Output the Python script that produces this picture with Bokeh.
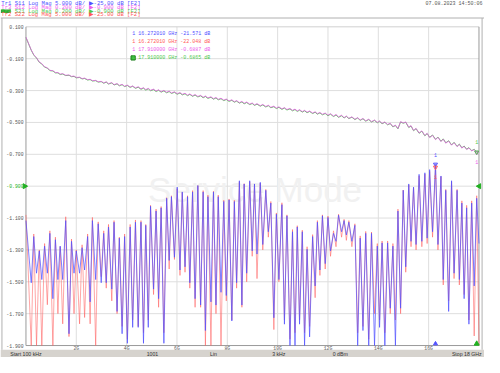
import math
from bokeh.plotting import figure
from bokeh.models import Range1d
from bokeh.core.properties import value
from bokeh.embed import file_html
from bokeh.resources import INLINE

# ---------------- data ----------------
# stimulus grid (GHz): S11 ripple maxima and minima, then stop frequency
pk_f = [0.0001, 0.31, 0.53, 0.74, 0.95, 1.17, 1.36, 1.58, 1.81, 2.00,
        2.23, 2.45, 2.64, 2.87, 3.09, 3.28, 3.50, 3.71, 3.92, 4.14,
        4.35, 4.57, 4.76, 4.95, 5.17, 5.37, 5.59, 5.78, 6.01, 6.21,
        6.42, 6.62, 6.83, 7.04, 7.23, 7.45, 7.64, 7.86, 8.07, 8.28,
        8.48, 8.67, 8.89, 9.08, 9.31, 9.53, 9.73, 9.95, 10.17, 10.37,
        10.59, 10.78, 10.98, 11.17, 11.39, 11.58, 11.78, 12.00, 12.22, 12.42,
        12.64, 12.83, 13.07, 13.28, 13.50, 13.73, 13.96, 14.15, 14.37, 14.58,
        14.78, 14.99, 15.21, 15.40, 15.62, 15.85, 16.04, 16.272, 16.49, 16.68,
        16.91, 17.13, 17.32, 17.51, 17.71, 17.91]
tr_f = [0.21, 0.42, 0.63, 0.85, 1.07, 1.27, 1.46, 1.71, 1.91, 2.13,
        2.33, 2.55, 2.77, 2.99, 3.19, 3.41, 3.62, 3.82, 4.03, 4.24,
        4.46, 4.67, 4.86, 5.07, 5.27, 5.48, 5.69, 5.90, 6.12, 6.32,
        6.51, 6.72, 6.94, 7.13, 7.35, 7.55, 7.75, 7.96, 8.18, 8.37,
        8.58, 8.77, 8.99, 9.18, 9.41, 9.63, 9.85, 10.05, 10.27, 10.49,
        10.69, 10.87, 11.07, 11.27, 11.49, 11.68, 11.89, 12.10, 12.32, 12.54,
        12.73, 12.95, 13.18, 13.39, 13.62, 13.85, 14.05, 14.26, 14.475, 14.68,
        14.885, 15.09, 15.30, 15.50, 15.73, 15.94, 16.155, 16.37, 16.58, 16.795,
        17.01, 17.22, 17.41, 17.60, 17.81]
stop_f = 18.0

# Tr1 S11 (dB)
s11_pk = [-30.4, -32.9, -35.15, -34.4, -32.4, -33.4, -34.4, -30.4, -33.65, -35.15,
          -34.65, -32.9, -30.4, -30.9, -32.4, -31.4, -30.65, -33.15, -32.9, -31.4,
          -30.65, -30.65, -31.15, -28.15, -28.9, -28.4, -26.9, -26.65, -25.15, -25.9,
          -26.65, -25.9, -24.9, -25.9, -26.65, -25.9, -26.65, -27.4, -27.15, -27.4,
          -24.15, -24.65, -24.15, -24.65, -24.4, -25.65, -27.65, -29.4, -27.9, -29.65,
          -32.15, -31.4, -32.15, -34.9, -32.9, -30.65, -29.65, -29.9, -32.4, -29.55,
          -30.4, -30.65, -31.15, -33.15, -32.4, -32.4, -34.4, -33.9, -33.9, -34.4,
          -28.9, -25.65, -24.65, -25.15, -23.15, -22.9, -22.4, -21.571, -23.4, -25.65,
          -24.15, -25.65, -27.65, -28.4, -27.65, -26.9]
s11_tr = [-40.15, -38.65, -39.65, -38.65, -42.65, -39.65, -39.65, -48.15, -38.65, -38.65,
          -38.15, -43.15, -39.65, -40.15, -40.15, -41.15, -44.65, -48.15, -49.65, -47.15,
          -47.15, -49.65, -47.15, -41.15, -42.65, -49.65, -36.65, -36.15, -38.15, -37.65,
          -40.15, -42.65, -43.65, -47.65, -43.15, -43.65, -41.65, -42.15, -46.15, -40.15,
          -43.65, -38.65, -35.15, -35.65, -34.15, -32.15, -45.65, -39.65, -46.65, -50.0,
          -50.0, -46.65, -50.0, -48.65, -40.65, -38.15, -37.15, -35.15, -33.65, -32.15,
          -32.65, -33.65, -50.0, -47.65, -50.0, -50.0, -47.15, -50.0, -44.15, -50.0,
          -44.15, -37.65, -33.65, -34.15, -33.65, -33.15, -32.15, -34.15, -39.65, -44.65,
          -38.65, -39.65, -42.65, -46.65, -40.65]
s11_stop = -34.0

# Tr2 S22 (dB)
s22_pk = [-29.5, -32.5, -35.0, -34.0, -32.0, -33.0, -34.5, -29.8, -33.3, -35.0,
          -34.2, -32.5, -29.9, -30.6, -32.0, -31.0, -30.4, -33.0, -32.5, -31.0,
          -30.3, -30.4, -31.0, -28.0, -28.6, -28.2, -26.8, -26.5, -25.4, -26.0,
          -26.5, -25.7, -24.9, -25.7, -26.4, -25.8, -26.4, -27.2, -27.0, -27.2,
          -24.3, -24.6, -24.3, -24.7, -24.5, -25.5, -27.4, -29.2, -27.6, -29.5,
          -31.8, -31.2, -31.9, -34.5, -32.6, -30.4, -29.5, -29.7, -32.0, -29.4,
          -30.2, -30.4, -30.9, -32.8, -32.1, -32.2, -34.0, -33.6, -33.6, -34.0,
          -28.6, -25.6, -24.8, -25.2, -23.4, -23.1, -22.7, -22.048, -23.5, -25.5,
          -24.3, -25.5, -27.3, -28.0, -27.3, -26.5]
s22_tr = [-50.0, -50.0, -50.0, -43.6, -50.0, -45.0, -46.6, -48.6, -45.0, -46.6,
          -45.6, -46.6, -50.0, -39.2, -41.0, -43.0, -45.0, -47.0, -49.0, -46.0,
          -47.0, -48.0, -46.0, -42.0, -44.0, -48.0, -38.0, -36.5, -39.0, -38.5,
          -41.0, -44.0, -44.0, -50.0, -50.0, -45.0, -50.0, -43.0, -46.0, -41.0,
          -44.0, -40.0, -36.0, -39.5, -35.0, -33.0, -47.5, -40.0, -46.0, -49.0,
          -48.0, -46.0, -48.0, -47.0, -42.5, -39.0, -38.0, -36.0, -34.5, -33.0,
          -33.5, -34.5, -48.0, -47.0, -49.0, -45.0, -46.0, -48.0, -45.0, -46.0,
          -45.0, -38.5, -34.5, -35.0, -34.5, -34.0, -33.0, -35.0, -40.5, -43.0,
          -39.5, -40.5, -42.0, -46.0, -48.5]
s22_stop = -50.0

# Tr3 S12 (dB)
s12_pk = [0.035, -0.075, -0.121, -0.151, -0.173, -0.187, -0.197, -0.204, -0.211, -0.218,
          -0.225, -0.232, -0.238, -0.245, -0.252, -0.257, -0.263, -0.268, -0.273, -0.278,
          -0.283, -0.289, -0.294, -0.298, -0.303, -0.307, -0.311, -0.315, -0.320, -0.324,
          -0.329, -0.333, -0.337, -0.342, -0.346, -0.351, -0.355, -0.360, -0.365, -0.370,
          -0.376, -0.380, -0.385, -0.390, -0.395, -0.400, -0.405, -0.410, -0.415, -0.419,
          -0.424, -0.428, -0.432, -0.436, -0.441, -0.445, -0.449, -0.455, -0.460, -0.465,
          -0.470, -0.474, -0.480, -0.485, -0.490, -0.495, -0.500, -0.506, -0.513, -0.526,
          -0.538, -0.503, -0.530, -0.550, -0.566, -0.582, -0.595, -0.608, -0.620, -0.630,
          -0.643, -0.652, -0.661, -0.670, -0.679, -0.6887]
s12_tr = [-0.045, -0.094, -0.131, -0.157, -0.175, -0.187, -0.194, -0.202, -0.209, -0.216,
          -0.222, -0.229, -0.236, -0.242, -0.245, -0.250, -0.256, -0.261, -0.266, -0.271,
          -0.276, -0.282, -0.286, -0.291, -0.295, -0.299, -0.303, -0.308, -0.312, -0.317,
          -0.321, -0.325, -0.330, -0.334, -0.339, -0.343, -0.348, -0.353, -0.358, -0.363,
          -0.368, -0.372, -0.378, -0.382, -0.387, -0.392, -0.398, -0.402, -0.407, -0.412,
          -0.416, -0.420, -0.424, -0.428, -0.433, -0.437, -0.441, -0.445, -0.450, -0.455,
          -0.460, -0.465, -0.470, -0.475, -0.480, -0.485, -0.491, -0.497, -0.505, -0.517,
          -0.495, -0.497, -0.520, -0.537, -0.553, -0.568, -0.581, -0.594, -0.605, -0.617,
          -0.627, -0.638, -0.650, -0.660, -0.670]
s12_stop = -0.684

# Tr4 S21 (dB)
s21_pk = [0.033, -0.077, -0.123, -0.153, -0.175, -0.189, -0.199, -0.206, -0.213, -0.220,
          -0.227, -0.234, -0.240, -0.247, -0.254, -0.259, -0.265, -0.270, -0.275, -0.280,
          -0.286, -0.292, -0.297, -0.301, -0.306, -0.310, -0.314, -0.318, -0.323, -0.327,
          -0.332, -0.336, -0.340, -0.345, -0.349, -0.354, -0.358, -0.363, -0.368, -0.373,
          -0.379, -0.383, -0.388, -0.393, -0.398, -0.403, -0.408, -0.413, -0.418, -0.422,
          -0.427, -0.431, -0.435, -0.439, -0.444, -0.448, -0.452, -0.458, -0.463, -0.468,
          -0.472, -0.476, -0.482, -0.487, -0.492, -0.497, -0.502, -0.508, -0.515, -0.528,
          -0.540, -0.505, -0.532, -0.552, -0.568, -0.584, -0.593, -0.606, -0.618, -0.628,
          -0.641, -0.650, -0.659, -0.668, -0.677, -0.6865]
s21_tr = [-0.047, -0.096, -0.133, -0.159, -0.177, -0.189, -0.196, -0.204, -0.211, -0.218,
          -0.224, -0.231, -0.238, -0.244, -0.247, -0.252, -0.258, -0.263, -0.268, -0.273,
          -0.279, -0.285, -0.289, -0.294, -0.298, -0.302, -0.306, -0.311, -0.315, -0.320,
          -0.324, -0.328, -0.333, -0.337, -0.342, -0.346, -0.351, -0.356, -0.361, -0.366,
          -0.371, -0.375, -0.381, -0.385, -0.390, -0.395, -0.401, -0.405, -0.410, -0.415,
          -0.419, -0.423, -0.427, -0.431, -0.436, -0.440, -0.444, -0.448, -0.453, -0.458,
          -0.462, -0.467, -0.472, -0.477, -0.482, -0.487, -0.493, -0.499, -0.507, -0.519,
          -0.497, -0.499, -0.522, -0.539, -0.555, -0.570, -0.579, -0.592, -0.603, -0.615,
          -0.625, -0.636, -0.648, -0.658, -0.668]
s21_stop = -0.682

x_ticks = [0, 2, 4, 6, 8, 10, 12, 14, 16, 18]
x_tick_labels = ["", "2G", "4G", "6G", "8G", "10G", "12G", "14G", "16G", ""]
y_ticks = [0.1, -0.1, -0.3, -0.5, -0.7, -0.9, -1.1, -1.3, -1.5, -1.7, -1.9]
y_tick_labels = ["0.100", "-0.100", "-0.300", "-0.500", "-0.700", "-0.900",
                 "-1.100", "-1.300", "-1.500", "-1.700", "-1.900"]
ref_level = -0.9

trace_headers = ["Tr1 S11 Log Mag 5.000 dB/ \u25b6-25.00 dB [F2]",
                 "Tr3 S12 Log Mag 0.200 dB/ \u25b6-0.900 dB [F2]",
                 "Tr4 S21 Log Mag 0.200 dB/ \u25b6-0.900 dB [F2]",
                 "Tr2 S22 Log Mag 5.000 dB/ \u25b6-25.00 dB [F2]"]
marker_f = [16.272010, 16.272010, 17.910000, 17.910000]
marker_val = [-21.571, -22.048, -0.6887, -0.6865]
marker_lines = ["1  16.272010 GHz  -21.571 dB",
                "1  16.272010 GHz  -22.048 dB",
                "1  17.910000 GHz  -0.6887 dB",
                "1  17.910000 GHz  -0.6865 dB"]
status_items = ["Start 100 kHz", "1001", "Lin", "3 kHz", "0 dBm", "Stop 18 GHz"]
date_text = "07.08.2023 14:50:06"

BLUE, RED, MAG, GRN = "#5050ff", "#ff5a5a", "#ec5aec", "#4cc84c"

# ---------------- geometry (in reference screen pixels) ----------------
W, H = 484, 357
RW, RH = 500.0, 373.0
FX0, FX1 = 26.3, 494.3
FY0, FY1 = 27.5, 360.5


def lin_range(a0, a1, p0, p1, q0, q1):
    k = (a1 - a0) / (p1 - p0)
    return a0 + (q0 - p0) * k, a0 + (q1 - p0) * k


xr = lin_range(x_ticks[0], x_ticks[-1], FX0, FX1, 0.0, RW)
yr = lin_range(y_ticks[0], y_ticks[-1], FY0, FY1, RH, 0.0)
s11r = lin_range(-25.0 + 5 * 5.0, -25.0 - 5 * 5.0, FY0, FY1, RH, 0.0)

p = figure(width=W, height=H, x_range=Range1d(*xr), y_range=Range1d(*yr),
           x_axis_type=None, y_axis_type=None, toolbar_location=None,
           output_backend="svg", min_border=0, title=None)
p.outline_line_color = None
p.background_fill_color = "white"
p.border_fill_color = "white"
p.extra_y_ranges = {"s11": Range1d(*s11r), "py": Range1d(RH, 0.0)}
p.extra_x_ranges = {"px": Range1d(0.0, RW)}

MONO = value("Liberation Mono")
SANS = value("Liberation Sans")


def txt(x, y, s, color, size, font=MONO, align="left", baseline="middle",
        xr_name="px", yr_name="py", style="normal"):
    p.text(x=[x], y=[y], text=[s], x_range_name=xr_name, y_range_name=yr_name,
           text_color=color, text_font_size=size, text_font=font,
           text_align=align, text_baseline=baseline, text_font_style=style)


# outer screen frame
p.segment(x0=[1.5, 0, 497.5], y0=[18.3, 18.3, 18.3], x1=[1.5, 500, 497.5],
          y1=[365, 18.3, 365], x_range_name="px", y_range_name="py",
          line_color="#b0b0b0", line_width=1)

# grid
gx = x_ticks[1:-1]
p.segment(x0=gx, y0=[y_ticks[-1]] * len(gx), x1=gx, y1=[y_ticks[0]] * len(gx),
          line_color="#dedede", line_width=1)
gy = y_ticks[1:-1]
p.segment(x0=[x_ticks[0]] * len(gy), y0=gy, x1=[x_ticks[-1]] * len(gy), y1=gy,
          line_color="#dedede", line_width=1)
p.segment(x0=[x_ticks[0]], y0=[y_ticks[0]], x1=[x_ticks[-1]], y1=[y_ticks[0]],
          line_color="#d0d0d0", line_width=1)
p.segment(x0=[x_ticks[0], x_ticks[0], x_ticks[-1]],
          y0=[y_ticks[-1], y_ticks[0], y_ticks[-1]],
          x1=[x_ticks[-1], x_ticks[0], x_ticks[-1]],
          y1=[y_ticks[-1], y_ticks[-1], y_ticks[0]],
          line_color="#9a9a9a", line_width=1)

# watermark
txt(263, 197, "Service Mode", "#f1f1f1", "35px", font=SANS, align="center")


def interleave(pk, tr, stop):
    out = []
    for i, v in enumerate(pk):
        out.append(v)
        if i < len(tr):
            out.append(tr[i])
    out.append(stop)
    return out


f_all = interleave(pk_f, tr_f, stop_f)
p.line(f_all, interleave(s22_pk, s22_tr, s22_stop), y_range_name="s11",
       line_color=RED, line_width=0.9, line_alpha=0.6)
p.line(f_all, interleave(s11_pk, s11_tr, s11_stop), y_range_name="s11",
       line_color=BLUE, line_width=0.9, line_alpha=0.8)
p.line(f_all, interleave(s21_pk, s21_tr, s21_stop),
       line_color=GRN, line_width=1, line_alpha=0.9)
p.line(f_all, interleave(s12_pk, s12_tr, s12_stop),
       line_color=MAG, line_width=1, line_alpha=0.75)

# markers on traces
p.scatter([marker_f[0]], [marker_val[0]], y_range_name="s11", marker="inverted_triangle",
          size=4, fill_color=None, line_color=BLUE)
p.scatter([marker_f[1]], [marker_val[1]], y_range_name="s11", marker="inverted_triangle",
          size=4, fill_color=None, line_color=RED)
p.scatter([marker_f[2]], [marker_val[2]], marker="inverted_triangle",
          size=4, fill_color=None, line_color=MAG)
p.scatter([marker_f[3]], [marker_val[3]], marker="inverted_triangle",
          size=4, fill_color=None, line_color=GRN)
p.text(x=[marker_f[0]], y=[marker_val[0] + 1.2], text=["1"], y_range_name="s11",
       text_color=BLUE, text_font_size="5px", text_font=MONO, text_align="center",
       text_baseline="bottom")
p.text(x=[marker_f[1]], y=[marker_val[1] - 1.2], text=["1"], y_range_name="s11",
       text_color=RED, text_font_size="5px", text_font=MONO, text_align="center",
       text_baseline="top")
p.text(x=[marker_f[2]], y=[marker_val[2] - 0.05], text=["1"],
       text_color=MAG, text_font_size="5px", text_font=MONO, text_align="center",
       text_baseline="top")
p.text(x=[marker_f[3]], y=[marker_val[3] + 0.05], text=["1"],
       text_color=GRN, text_font_size="5px", text_font=MONO, text_align="center",
       text_baseline="bottom")

# stimulus indicators of markers at the bottom edge
p.scatter([marker_f[0]], [358.6], y_range_name="py", marker="triangle", size=4,
          fill_color=BLUE, line_color=BLUE)
p.scatter([marker_f[3]], [358.6], y_range_name="py", marker="triangle", size=5,
          fill_color="#20b020", line_color="#20b020")

# reference level indicators
p.scatter(x=[25.0], y=[ref_level], x_range_name="px", marker="triangle",
          angle=-math.pi / 2, size=5, fill_color="#20b020", line_color="#20b020")
p.scatter(x=[494.5], y=[ref_level], x_range_name="px", marker="triangle",
          angle=math.pi / 2, size=5, fill_color="#20b020", line_color="#20b020")

# y tick labels
for v, lab in zip(y_ticks, y_tick_labels):
    col = "#20b020" if abs(v - ref_level) < 1e-9 else "#555555"
    p.text(x=[23.8], y=[v], text=[lab], x_range_name="px", text_color=col,
           text_font_size="4.8px", text_font=MONO, text_align="right",
           text_baseline="middle")

# x tick labels
for v, lab in zip(x_ticks, x_tick_labels):
    if lab:
        p.text(x=[v], y=[363.3], text=[lab], y_range_name="py", text_color="#555555",
               text_font_size="4.8px", text_font=MONO, text_align="center",
               text_baseline="middle")

# header: trace lines
header_cols = [BLUE, MAG, GRN, RED]
header_y = [3.4, 7.3, 11.1, 15.0]
p.quad(left=[0.3], right=[10.6], top=[9.3], bottom=[13.0], x_range_name="px",
       y_range_name="py", fill_color="#2fa52f", line_color=None)
for s, c, y in zip(trace_headers, header_cols, header_y):
    txt(0.8, y, s, c, "5.6px")
txt(498, 3.4, date_text, "#555555", "5px", align="right")

# marker read-out
mk_cols = [BLUE, RED, MAG, GRN]
mk_y = [35.0, 43.3, 51.7, 60.0]
p.quad(left=[134.8], right=[139.2], top=[57.8], bottom=[62.2], x_range_name="px",
       y_range_name="py", fill_color="#3cbc3c", line_color="#208020")
for s, c, y in zip(marker_lines, mk_cols, mk_y):
    txt(136.0, y, s, c, "5px")

# status bar
p.quad(left=[0], right=[RW], top=[365.0], bottom=[RH], x_range_name="px",
       y_range_name="py", fill_color="#d6d3ce", line_color=None)
st_x = [10, 157, 220, 287.5, 351, 497]
st_al = ["left", "center", "center", "center", "center", "right"]
for s, x, a in zip(status_items, st_x, st_al):
    txt(x, 369.2, s, "#303030", "5.2px", font=SANS, align=a)

open("out.html", "w").write(file_html(p, INLINE))
